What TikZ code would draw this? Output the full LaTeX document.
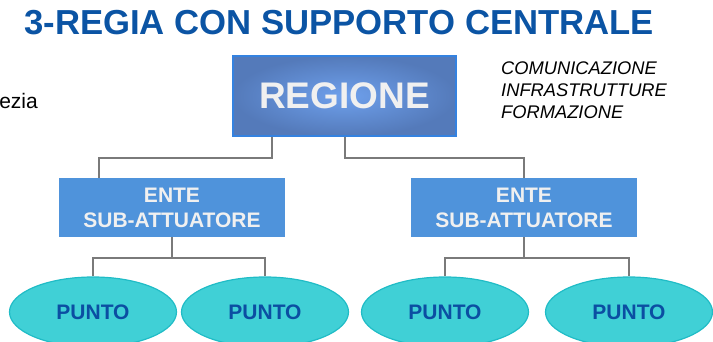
\documentclass[tikz,border=0pt]{standalone}
\usepackage{fontspec}
\setmainfont{Liberation Sans}
\usetikzlibrary{shapes.geometric}
\definecolor{titleblue}{RGB}{11,84,164}
\definecolor{reginner}{RGB}{110,160,236}
\definecolor{regouter}{RGB}{84,122,186}
\definecolor{regborder}{RGB}{52,130,224}
\definecolor{entefill}{RGB}{79,147,219}
\definecolor{puntofill}{RGB}{64,208,214}
\definecolor{puntodraw}{RGB}{32,188,198}
\definecolor{puntotext}{RGB}{11,78,162}
\definecolor{conncol}{RGB}{122,122,122}
\definecolor{lighttext}{RGB}{240,240,240}
\tikzset{
  regbox/.style={rectangle, shading=radial, inner color=reginner, outer color=regouter,
    draw=regborder, line width=1.5pt, minimum width=223pt, minimum height=80pt,
    text=lighttext, font=\bfseries\fontsize{37}{44}\selectfont},
  entebox/.style={rectangle, fill=entefill, minimum width=226pt, minimum height=59pt,
    text=lighttext, align=center, font=\bfseries\fontsize{21}{25}\selectfont},
  puntobox/.style={ellipse, fill=puntofill, draw=puntodraw, line width=1.2pt, inner sep=0pt,
    minimum width=167pt, minimum height=70pt, text=puntotext,
    font=\bfseries\fontsize{21}{25}\selectfont},
  conn/.style={draw=conncol, line width=2pt},
  listtext/.style={anchor=base west, inner sep=0pt, font=\itshape\fontsize{18.3}{22}\selectfont},
}
\begin{document}
\begin{tikzpicture}[x=1pt,y=-1pt]
\useasboundingbox (0,0) rectangle (713,342);
\clip (0,0) rectangle (713,342);
\node[anchor=base west, inner sep=0pt, text=titleblue, font=\bfseries\fontsize{34.7}{40}\selectfont] (title) at (24,35) {3-REGIA CON SUPPORTO CENTRALE};
\node[anchor=base east, inner sep=0pt, font=\fontsize{21}{25}\selectfont] (ezia) at (38,109) {ezia};
\node[listtext] (l1) at (501,75) {COMUNICAZIONE};
\node[listtext] (l2) at (501,97) {INFRASTRUTTURE};
\node[listtext] (l3) at (501,119) {FORMAZIONE};
\node[regbox] (reg) at (344.5,96) {REGIONE};
\node[entebox] (e1) at (172,207.5) {ENTE\\SUB-ATTUATORE};
\node[entebox] (e2) at (524,207.5) {ENTE\\SUB-ATTUATORE};
\node[puntobox] (p1) at (93,312) {PUNTO};
\node[puntobox] (p2) at (265,312) {PUNTO};
\node[puntobox] (p3) at (445,312) {PUNTO};
\node[puntobox] (p4) at (629,312) {PUNTO};
\draw[conn] ([xshift=-72.5pt]reg.south) -- ++(0,21) -| ([xshift=-73pt]e1.north);
\draw[conn] (reg.south) -- ++(0,21) -| (e2.north);
\draw[conn] (e1.south) -- ++(0,21) -| (p1.north);
\draw[conn] (e1.south) -- ++(0,21) -| (p2.north);
\draw[conn] (e2.south) -- ++(0,21) -| (p3.north);
\draw[conn] (e2.south) -- ++(0,21) -| (p4.north);
\end{tikzpicture}
\end{document}
